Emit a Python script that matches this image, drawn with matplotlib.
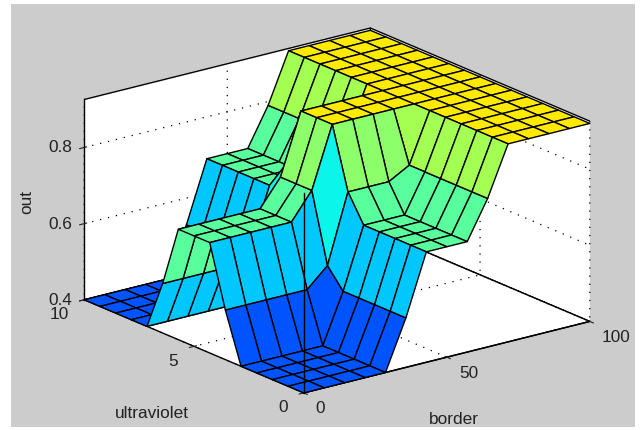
import numpy as np
import matplotlib
matplotlib.use("Agg")
import matplotlib.pyplot as plt
from matplotlib.colors import Normalize

plt.rcParams['font.family'] = ['Liberation Sans', 'DejaVu Sans']
plt.rcParams['grid.linestyle'] = (0, (1, 5.5))
plt.rcParams['grid.color'] = 'black'
plt.rcParams['grid.linewidth'] = 0.9

border = np.linspace(0, 100, 15)
ultraviolet = np.linspace(0, 10, 15)

row_low = [.40, .40, .40, .40, .40, .53, .69, .69, .69, .79, .92, .92, .92, .92, .92]
row_edge = [.53, .53, .53, .53, .53, .58, .76, .76, .76, .79, .92, .92, .92, .92, .92]
row_mid = [.69, .69, .69, .69, .69, .76, .92, .92, .92, .92, .92, .92, .92, .92, .92]
out_rows = [row_low] * 5 + [row_edge] + [row_mid] * 3 + [row_edge] + [row_low] * 5

x_ticks = [0, 50, 100]
y_ticks = [0, 5, 10]
z_ticks = [0.4, 0.6, 0.8]
z_tick_labels = ['0.4', '0.6', '0.8']
z_top = 0.926

W, H = 644, 430
fig = plt.figure(figsize=(W / 100, H / 100), dpi=100, facecolor='white')

bg = fig.add_axes([11 / W, 3 / H, 624 / W, 423 / H], facecolor='#cccccc', zorder=-1)
bg.set_xticks([]); bg.set_yticks([])
for s in bg.spines.values():
    s.set_visible(False)

size = 536
ax = fig.add_axes([61.8 / W, -55.7 / H, size / W, size / H], projection='3d', proj_type='ortho',
                  computed_zorder=False)
ax.patch.set_alpha(0)
ax.view_init(elev=19, azim=-127.5)
ax.set_box_aspect((1, 1, 0.5875))

X, Y = np.meshgrid(border, ultraviolet)
Z = np.array(out_rows)
norm = Normalize(vmin=0.161, vmax=1.31)
fc = plt.get_cmap('jet')(norm(Z))
ax.plot_surface(X, Y, Z, facecolors=fc, rstride=1, cstride=1, shade=False,
                edgecolor='black', linewidth=1.0, antialiased=True, zorder=2)
ax.plot([0, 0], [0, 0], [z_ticks[0], z_top], color='black', linewidth=1.0, zorder=3)

ax.set_xlim(0, 100)
ax.set_ylim(0, 10)
ax.set_zlim(0.4, z_top)
ax.set_xticks(x_ticks)
ax.set_yticks(y_ticks)
ax.set_zticks(z_ticks)
ax.set_zticklabels(z_tick_labels)
ax.tick_params(labelsize=12.4, colors='#222222')
ax.xaxis.set_tick_params(pad=3)
ax.yaxis.set_tick_params(pad=3)
ax.zaxis.set_tick_params(pad=1.6)
plt.setp(ax.get_xticklabels(), ha='left', va='center')
plt.setp(ax.get_yticklabels(), ha='right', va='center')
plt.setp(ax.get_zticklabels(), va='center_baseline')

for axis in (ax.xaxis, ax.yaxis, ax.zaxis):
    axis.set_pane_color((1, 1, 1, 1))
    axis.pane.set_edgecolor('black')
    axis.pane.set_linewidth(1.0)
    axis.line.set_linewidth(1.0)

lab = dict(fontsize=12.4, color='#222222', ha='center', va='center')
fig.text(454 / W, 1 - 419 / H, 'border', **lab)
fig.text(152 / W, 1 - 413 / H, 'ultraviolet', **lab)
fig.text(27 / W, 1 - 202 / H, 'out', rotation=90, **lab)

fig.savefig('out.png', dpi=100, facecolor='white')
